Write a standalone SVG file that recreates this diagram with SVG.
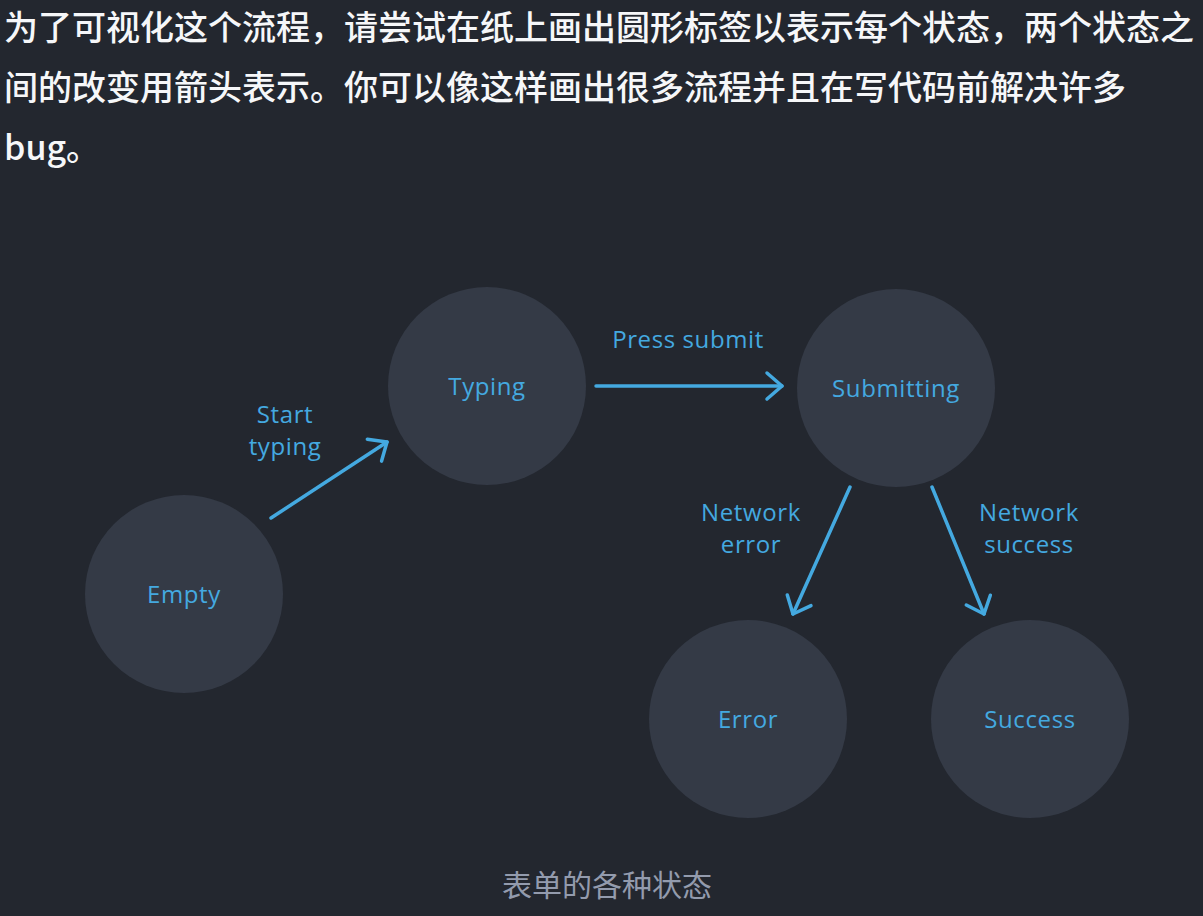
<svg xmlns="http://www.w3.org/2000/svg" width="1203" height="916" viewBox="0 0 1203 916">
<style>
.bg{fill:#23272f}
.prose{font-family:"Noto Sans CJK SC","Noto Sans",sans-serif;font-size:34px;fill:#f6f7f9;font-weight:500}
.node circle{fill:#343a46}
.lbl{font-family:"Open Sans","Noto Sans",sans-serif;font-size:24px;letter-spacing:0.6px;fill:#44a9e0;text-anchor:middle}
.edge{stroke:#44a9e0;stroke-width:3.5;fill:none;stroke-linecap:round}
.cap{font-family:"Noto Sans CJK SC",sans-serif;font-size:30px;fill:#939bad;text-anchor:middle}
</style>
<defs>
<marker id="ah" markerUnits="userSpaceOnUse" orient="auto" refX="0" refY="0" overflow="visible" markerWidth="30" markerHeight="30">
<path d="M -15 -13 L 0 0 L -15 13" fill="none" stroke="#44a9e0" stroke-width="3.5" stroke-linecap="round" stroke-linejoin="round"/>
</marker>
</defs>
<rect class="bg" x="0" y="0" width="1203" height="916"/>
<text class="prose" x="4" y="40">为了可视化这个流程，请尝试在纸上画出圆形标签以表示每个状态，两个状态之</text>
<text class="prose" x="4" y="100">间的改变用箭头表示。你可以像这样画出很多流程并且在写代码前解决许多</text>
<text class="prose" x="4" y="160">bug。</text>
<g id="node-empty" class="node"><circle cx="184" cy="594" r="99"/><text class="lbl" x="184" y="603">Empty</text></g>
<g id="node-typing" class="node"><circle cx="487" cy="386" r="99"/><text class="lbl" x="487" y="395">Typing</text></g>
<g id="node-submitting" class="node"><circle cx="896" cy="388" r="99"/><text class="lbl" x="896" y="397">Submitting</text></g>
<g id="node-error" class="node"><circle cx="748" cy="719" r="99"/><text class="lbl" x="748" y="728">Error</text></g>
<g id="node-success" class="node"><circle cx="1030" cy="719" r="99"/><text class="lbl" x="1030" y="728">Success</text></g>
<g id="connectors">
<line class="edge" x1="271" y1="518" x2="387" y2="442" marker-end="url(#ah)"/>
<line class="edge" x1="596" y1="386" x2="782" y2="386" marker-end="url(#ah)"/>
<line class="edge" x1="850" y1="487" x2="793" y2="614" marker-end="url(#ah)"/>
<line class="edge" x1="932" y1="487" x2="984" y2="614" marker-end="url(#ah)"/>
<text class="lbl" x="285" y="423">Start</text>
<text class="lbl" x="285" y="455">typing</text>
<text class="lbl" x="688" y="348">Press submit</text>
<text class="lbl" x="751" y="521">Network</text>
<text class="lbl" x="751" y="553">error</text>
<text class="lbl" x="1029" y="521">Network</text>
<text class="lbl" x="1029" y="553">success</text>
</g>
<text class="cap" x="607" y="896">表单的各种状态</text>
</svg>
